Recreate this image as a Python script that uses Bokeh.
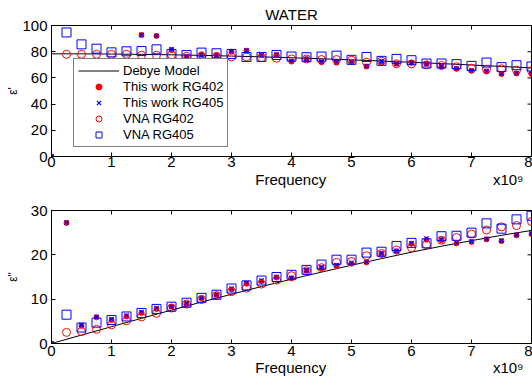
import math
from bokeh.plotting import figure
from bokeh.models import LinearAxis, Legend, LegendItem, FixedTicker, Range1d
from bokeh.layouts import column
from bokeh.embed import file_html
from bokeh.resources import INLINE

nan = float("nan")
FONT = "Liberation Sans"
NB = "\u00a0"

# ---------------- data ----------------
freq_model = [0, 0.5, 1.0, 1.5, 2.0, 2.5, 3.0, 3.5, 4.0, 4.5, 5.0, 5.5, 6.0, 6.5, 7.0, 7.5, 8.0]
debye_eps1 = [78.4, 78.35, 78.2, 77.96, 77.62, 77.19, 76.66, 76.06, 75.37, 74.61, 73.77, 72.87,
              71.92, 70.91, 69.85, 68.75, 67.6]
debye_eps2 = [0.0, 1.9, 3.79, 5.67, 7.53, 9.35, 11.1, 12.85, 14.5, 16.1, 17.65, 19.15,
              20.6, 21.95, 23.2, 24.4, 25.5]

freq_this = [0, 0.25, 0.5, 0.75, 1.0, 1.25, 1.5, 1.75, 2.0, 2.25, 2.5, 2.75, 3.0, 3.25, 3.5, 3.75,
             4.0, 4.25, 4.5, 4.75, 5.0, 5.25, 5.5, 5.75, 6.0, 6.25, 6.5, 6.75, 7.0, 7.25, 7.5, 7.75, 8.0]
this402_eps1 = [0.0, nan, nan, nan, nan, nan, 92.7, 92.0, 81.3, 76.0, 78.0, 77.5, 80.0, 80.8, 77.5,
                77.5, 72.5, 74.5, 72.0, 71.7, 72.3, 68.7, 72.3, 70.8, 71.5, 70.7, 68.7, 66.9, 65.4,
                64.9, 62.9, 63.4, 63.0]
this405_eps1 = [0.0, nan, nan, nan, nan, nan, 92.9, 92.2, 81.8, 76.3, 77.7, 77.3, 80.3, 81.1, 77.3,
                77.8, 72.8, 74.3, 72.4, 71.9, 72.0, 69.0, 72.6, 70.6, 71.8, 70.4, 68.9, 67.2, 65.6,
                65.2, 63.2, 63.7, 63.3]
this402_eps2 = [0.0, 27.2, 4.0, 5.9, 5.3, 6.1, 6.9, 7.8, 8.3, 8.9, 10.2, 10.9, 12.2, 13.5, 14.0,
                14.9, 14.7, 16.4, 17.0, 17.5, 18.0, 18.3, 20.2, 20.8, 22.5, 23.4, 23.3, 22.6, 22.9,
                23.5, 23.1, 24.4, 24.7]
this405_eps2 = [0.0, 27.3, 4.2, 6.0, 5.5, 6.3, 7.1, 8.0, 8.4, 9.1, 10.3, 11.1, 12.4, 13.7, 14.2,
                15.0, 14.8, 16.5, 17.2, 17.7, 18.2, 18.4, 20.4, 20.9, 22.6, 23.7, 23.5, 22.7, 23.0,
                23.6, 23.2, 24.5, 24.8]

freq_vna = [0.25, 0.5, 0.75, 1.0, 1.25, 1.5, 1.75, 2.0, 2.25, 2.5, 2.75, 3.0, 3.25, 3.5, 3.75,
            4.0, 4.25, 4.5, 4.75, 5.0, 5.25, 5.5, 5.75, 6.0, 6.25, 6.5, 6.75, 7.0, 7.25, 7.5, 7.75, 8.0]
vna402_eps1 = [78.0, 78.0, 78.0, 78.0, 78.0, 77.3, 77.3, 77.5, 76.5, 76.5, 76.3, 76.0, 76.0, 75.5,
               75.0, 74.5, 74.5, 74.0, 74.0, 73.5, 72.0, 72.8, 70.8, 70.7, 70.0, 69.5, 68.5, 67.4,
               66.5, 67.0, 65.9, 65.5]
vna405_eps1 = [94.7, 85.6, 82.3, 79.5, 80.3, 80.5, 81.8, 78.3, 77.5, 79.3, 78.8, 78.3, 76.0, 76.0,
               77.5, 76.3, 75.8, 76.3, 77.0, 73.8, 76.0, 73.0, 74.5, 73.5, 71.0, 71.0, 70.5, 69.2,
               71.7, 68.2, 69.7, 68.7]
vna402_eps2 = [2.5, 2.7, 3.2, 4.2, 5.1, 6.0, 6.8, 8.0, 8.9, 9.9, 10.8, 11.7, 12.5, 13.4, 14.3, 15.3,
               16.4, 17.1, 18.3, 18.5, 19.8, 20.3, 21.1, 21.6, 22.3, 23.3, 23.9, 24.7, 25.6, 26.3,
               26.6, 27.5]
vna405_eps2 = [6.5, 3.6, 4.7, 5.3, 6.1, 6.9, 7.8, 8.3, 9.2, 10.3, 11.0, 12.4, 13.1, 14.2, 15.0, 15.5,
               16.6, 17.8, 18.9, 18.9, 20.5, 20.7, 22.0, 22.7, 22.6, 24.2, 24.3, 25.0, 27.1, 25.9,
               28.0, 28.8]

x_ticks = [0, 1, 2, 3, 4, 5, 6, 7, 8]
y1_ticks = [0, 20, 40, 60, 80, 100]
y2_ticks = [0, 10, 20, 30]
x_label = NB * 47 + "Frequency" + NB * 40 + "x10\u2079"

X_MAX = 8
TICK_PX = 4
FIG_W = 532
BORDER_L = 51
BORDER_R = 1


def style_axis(ax, ticks, show_labels, standoff):
    ax.ticker = FixedTicker(ticks=ticks)
    ax.major_tick_in = TICK_PX
    ax.major_tick_out = 0
    ax.minor_tick_line_color = None
    ax.axis_line_color = "black"
    ax.major_tick_line_color = "black"
    ax.major_label_text_font = FONT
    ax.major_label_text_color = "black"
    ax.major_label_standoff = standoff
    if show_labels:
        ax.major_label_text_font_size = "15px"
    else:
        ax.major_label_text_font_size = "0px"
        ax.major_label_overrides = {t: "" for t in ticks}
        ax.axis_label_standoff = 0


def make_fig(height, y_end, y_ticks, border_top, border_bottom, y_label,
             x_tick_standoff, x_label_standoff, y_label_standoff):
    p = figure(width=FIG_W, height=height, x_range=Range1d(0, X_MAX), y_range=Range1d(0, y_end),
               output_backend="svg", toolbar_location=None,
               min_border_left=BORDER_L, min_border_right=BORDER_R, min_border_top=border_top,
               min_border_bottom=border_bottom)
    p.grid.visible = False
    p.outline_line_color = "black"
    p.outline_line_width = 1
    p.background_fill_color = "white"
    p.border_fill_color = "white"
    p.add_layout(LinearAxis(), "above")
    bottom, left = p.below[0], p.left[0]
    style_axis(bottom, x_ticks, True, x_tick_standoff)
    style_axis(left, y_ticks, True, 4)
    style_axis(p.above[0], x_ticks, False, 0)
    bottom.axis_label = x_label
    bottom.axis_label_text_font = FONT
    bottom.axis_label_text_font_size = "15px"
    bottom.axis_label_text_font_style = "normal"
    bottom.axis_label_text_color = "black"
    bottom.axis_label_standoff = x_label_standoff
    left.axis_label = y_label
    left.axis_label_text_font = FONT
    left.axis_label_text_font_size = "12px"
    left.axis_label_text_font_style = "normal"
    left.axis_label_text_color = "black"
    left.axis_label_standoff = y_label_standoff
    # inward tick marks on the right edge of the box, mirroring the left axis ticks
    frame_w = FIG_W - BORDER_L - BORDER_R
    tick_len = TICK_PX * X_MAX / frame_w
    p.segment(x0=[X_MAX] * len(y_ticks), y0=y_ticks, x1=[X_MAX - tick_len] * len(y_ticks),
              y1=y_ticks, line_color="black", line_width=1)
    return p


def add_series(p, m_y, t402, t405, v402, v405):
    r_line = p.line(freq_model, m_y, line_color="black", line_width=1)
    r_dot = p.scatter(freq_this, t402, marker="circle", size=5, fill_color="red", line_color="red")
    r_x = p.scatter(freq_this, t405, marker="x", size=6, line_color="blue", line_width=1.2)
    r_o = p.scatter(freq_vna, v402, marker="circle", size=8, fill_color=None, line_color="red",
                    line_width=1)
    r_sq = p.scatter(freq_vna, v405, marker="square", size=9, fill_color=None, line_color="blue",
                     line_width=1)
    return r_line, r_dot, r_x, r_o, r_sq


# ---------------- top: eps' ----------------
p1 = make_fig(190, 100, y1_ticks, 24, 34, "\u03b5'", 0, 1, -1)
p1.title.text = "WATER"
p1.title.align = "center"
p1.title.text_font = FONT
p1.title.text_font_size = "15px"
p1.title.text_font_style = "normal"
p1.title.text_color = "black"
p1.title.standoff = 6
p1.title.offset = 0
rs = add_series(p1, debye_eps1, this402_eps1, this405_eps1, vna402_eps1, vna405_eps1)
legend = Legend(items=[
    LegendItem(label="Debye Model", renderers=[rs[0]]),
    LegendItem(label="This work RG402", renderers=[rs[1]]),
    LegendItem(label="This work RG405", renderers=[rs[2]]),
    LegendItem(label="VNA RG402", renderers=[rs[3]]),
    LegendItem(label="VNA RG405", renderers=[rs[4]]),
], location=(22, 9))
legend.border_line_color = "black"
legend.border_line_width = 1
legend.background_fill_color = "white"
legend.background_fill_alpha = 1.0
legend.padding = 4
legend.spacing = 1
legend.margin = 0
legend.label_height = 15
legend.glyph_height = 15
legend.glyph_width = 41
legend.label_standoff = 4
legend.label_text_font = FONT
legend.label_text_font_size = "13px"
legend.label_text_color = "black"
p1.add_layout(legend)

# ---------------- bottom: eps'' ----------------
p2 = make_fig(195, 30, y2_ticks, 20, 42, "\u03b5\"", 2, 0, 8)
add_series(p2, debye_eps2, this402_eps2, this405_eps2, vna402_eps2, vna405_eps2)

layout = column(p1, p2)

open("out.html", "w").write(file_html(layout, INLINE))
